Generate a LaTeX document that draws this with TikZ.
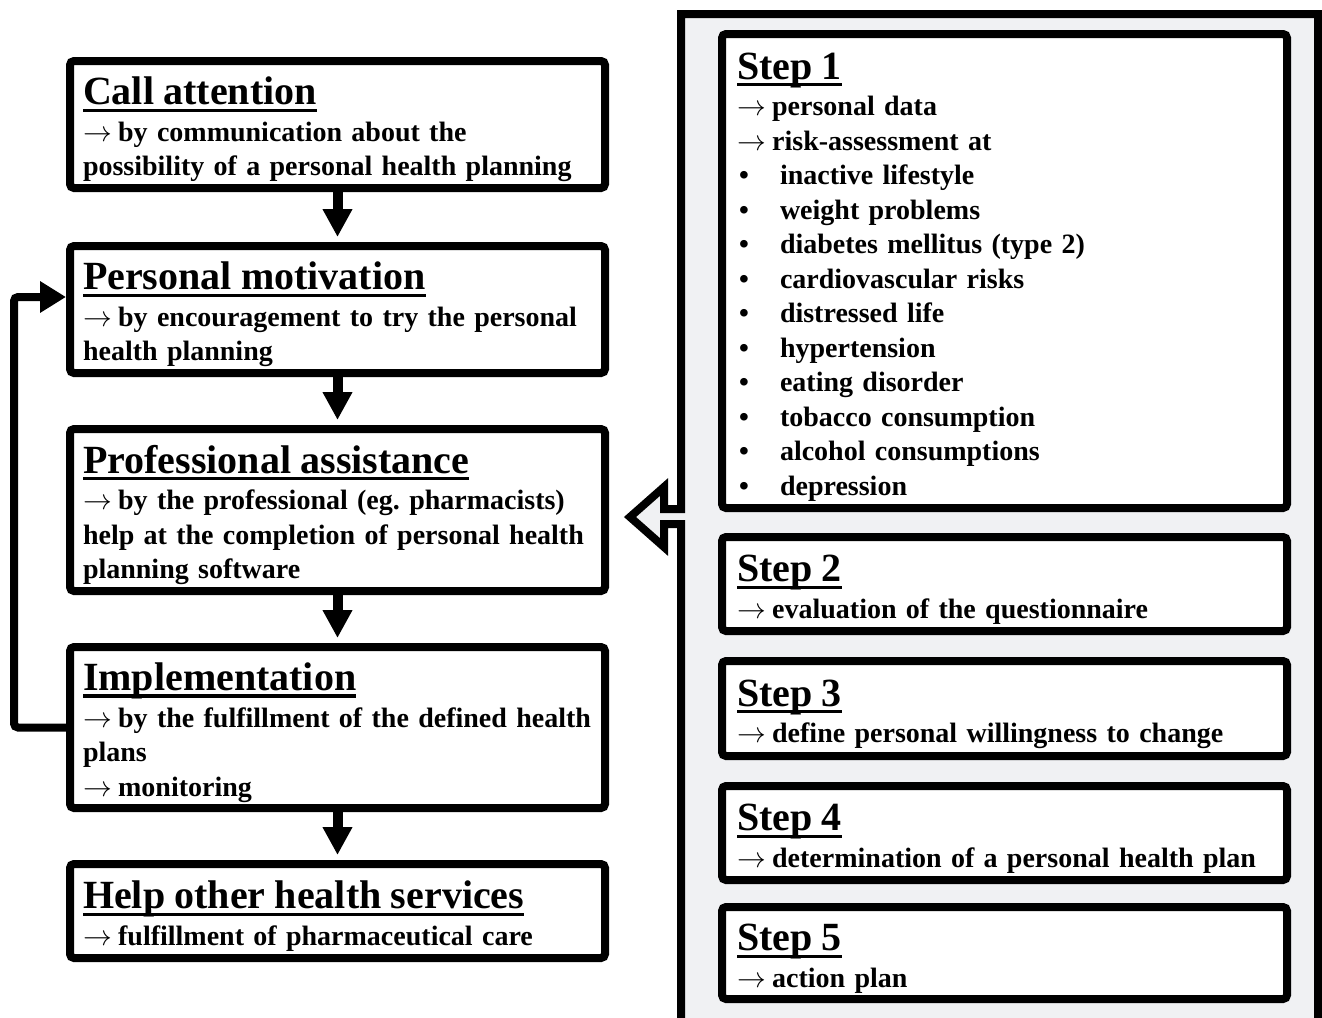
\documentclass[tikz,border=0pt]{standalone}
\usepackage{fontspec}
\setmainfont{Liberation Serif}
\usetikzlibrary{arrows.meta}
\definecolor{panelgray}{RGB}{240,241,243}
\newcommand{\boxhead}[1]{{\fontsize{20}{24}\selectfont\rule{0pt}{19pt}\setbox0\hbox{#1}\rlap{\rule[-3.5pt]{\wd0}{1.6pt}}\box0}}
\newcommand{\nextarr}{$\rightarrow$\kern-1.5pt}
\newcommand{\risk}[1]{\makebox[21.5pt][l]{\hspace{1pt}•}#1}
\begin{document}
\begin{tikzpicture}[x=0.5pt,y=-0.5pt,
  stage/.style={draw,line width=4pt,rounded corners=2pt,fill=white,anchor=north west,
    minimum width=267.5pt,text width=254.5pt,inner xsep=6.5pt,inner ysep=0pt,align=left,
    font=\fontsize{14}{17.25}\selectfont\bfseries\frenchspacing},
  stepbox/.style={stage,minimum width=282.5pt,text width=267.5pt,inner xsep=7.5pt},
  flow/.style={line width=5pt,-{Triangle[length=14pt,width=14pt]},shorten >=2.5pt}]
  \useasboundingbox (0,0) rectangle (1322,1017);
  \draw[line width=4pt,fill=panelgray,line join=miter] (681,1030) -- (681,524) -- (664,524)
    -- (664,547) -- (630,517) -- (664,487) -- (664,509) -- (681,509) -- (681,14)
    -- (1318,14) -- (1318,1030);

  \node[stage,minimum height=63.5pt] (attn) at (66,57) {\boxhead{Call attention}\\[1pt]
    \nextarr{} by communication about the\\ possibility of a personal health planning};
  \node[stage,minimum height=63.5pt] (motiv) at (66,242) {\boxhead{Personal motivation}\\[1pt]
    \nextarr{} by encouragement to try the personal\\ health planning};
  \node[stage,minimum height=81pt] (prof) at (66,425) {\boxhead{Professional assistance}\\[1pt]
    \nextarr{} by the professional (eg. pharmacists)\\ help at the completion of personal health\\ planning software};
  \node[stage,minimum height=80.5pt] (impl) at (66,643) {\boxhead{Implementation}\\[1pt]
    \mbox{\nextarr{} by the fulfillment of the defined health}\\ plans\\ \nextarr{} monitoring};
  \node[stage,minimum height=47pt] (help) at (66,860) {\boxhead{Help other health services}\\[1pt]
    \nextarr{} fulfillment of pharmaceutical care};

  \foreach \a/\b in {attn/motiv,motiv/prof,prof/impl,impl/help}
    \draw[flow] (\a.south) -- (\b.north);
  \draw[line width=4pt,rounded corners=2pt,-{Triangle[length=13pt,width=15pt]}] (impl.west) -- ++(-52,0)
    |- ([yshift=6.25pt]motiv.west);

  \node[stepbox,minimum height=237pt] (step1) at (718,30) {\boxhead{Step 1}\\[1pt]
    \nextarr{} personal data\\ \nextarr{} risk-assessment at\\
    \risk{inactive lifestyle}\\ \risk{weight problems}\\ \risk{diabetes mellitus (type 2)}\\
    \risk{cardiovascular risks}\\ \risk{distressed life}\\ \risk{hypertension}\\
    \risk{eating disorder}\\ \risk{tobacco consumption}\\ \risk{alcohol consumptions}\\
    \risk{depression}};
  \node[stepbox,minimum height=47pt] (step2) at (718,533) {\boxhead{Step 2}\\[1pt]
    \nextarr{} evaluation of the questionnaire};
  \node[stepbox,minimum height=47.5pt] (step3) at (718,657) {\boxhead{Step 3}\\[1pt]
    \nextarr{} define personal willingness to change};
  \node[stepbox,minimum height=47pt] (step4) at (718,782) {\boxhead{Step 4}\\[1pt]
    \nextarr{} determination of a personal health plan};
  \node[stepbox,minimum height=46pt] (step5) at (718,903) {\boxhead{Step 5}\\[1pt]
    \nextarr{} action plan};
\end{tikzpicture}
\end{document}
